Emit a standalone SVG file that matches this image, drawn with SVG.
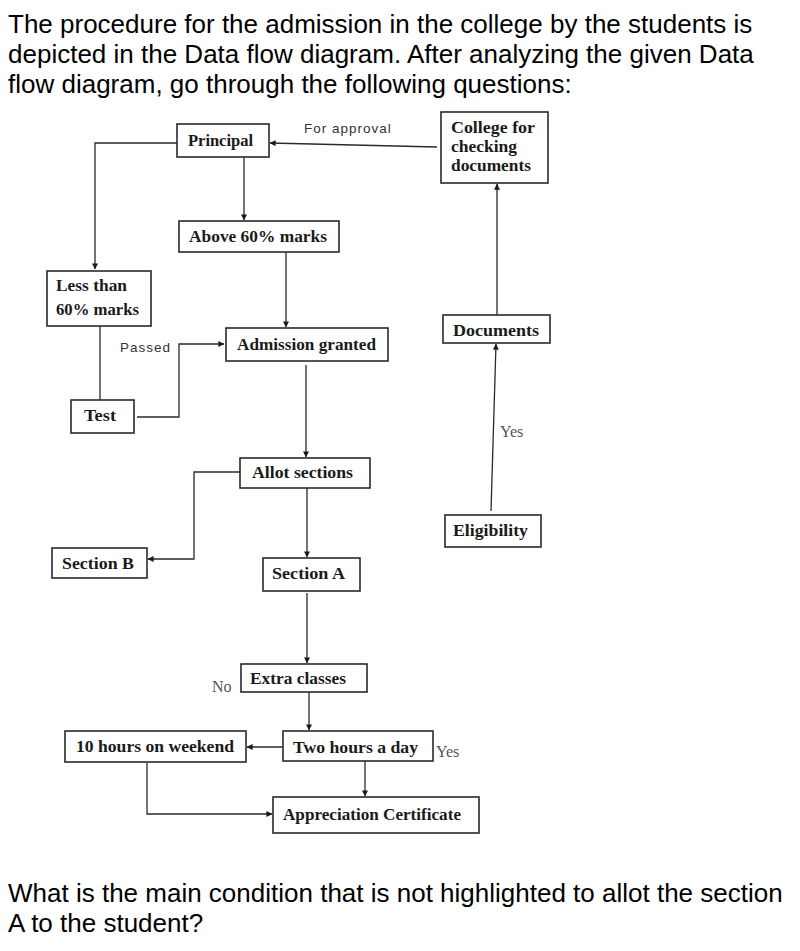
<svg xmlns="http://www.w3.org/2000/svg" width="800" height="951" viewBox="0 0 800 951">
<style>
.q{font-family:"Liberation Sans",Arial,sans-serif;font-size:26px;fill:#000}
.box{fill:#fff;stroke:#2a2a2a;stroke-width:1.6}
.lb{font-family:"Liberation Serif","Times New Roman",serif;font-weight:bold;font-size:16.5px;fill:#1a1a1a}
.sm{font-family:"Liberation Sans",Arial,sans-serif;font-size:13.5px;letter-spacing:1px;fill:#333}
.yn{font-family:"Liberation Serif","Times New Roman",serif;font-size:16px;fill:#555}
.c{fill:none;stroke:#2a2a2a;stroke-width:1.3}
</style>
<defs>
<marker id="ah" viewBox="0 0 8 8" refX="7.5" refY="4" markerWidth="6" markerHeight="6" markerUnits="userSpaceOnUse" orient="auto">
<path d="M0,0 L8,4 L0,8 z" fill="#1a1a1a"/>
</marker>
</defs>
<rect width="800" height="951" fill="#fff"/>
<g id="question-top">
<text class="q" x="8" y="33">The procedure for the admission in the college by the students is</text>
<text class="q" x="8" y="63">depicted in the Data flow diagram. After analyzing the given Data</text>
<text class="q" x="8" y="93">flow diagram, go through the following questions:</text>
</g>
<g id="connectors">
<polyline class="c" points="177,143 95,143 95,269" marker-end="url(#ah)"/>
<line class="c" x1="244" y1="157" x2="244" y2="220" marker-end="url(#ah)"/>
<line class="c" x1="437" y1="147" x2="270" y2="143" marker-end="url(#ah)"/>
<line class="c" x1="286" y1="252" x2="286" y2="327" marker-end="url(#ah)"/>
<line class="c" x1="100" y1="326" x2="100" y2="400"/>
<polyline class="c" points="137,417 179,417 179,344 224,344" marker-end="url(#ah)"/>
<line class="c" x1="306" y1="365" x2="306" y2="457" marker-end="url(#ah)"/>
<polyline class="c" points="240,472 194,472 194,559 148,559" marker-end="url(#ah)"/>
<line class="c" x1="307" y1="488" x2="307" y2="557" marker-end="url(#ah)"/>
<line class="c" x1="491" y1="511" x2="496" y2="344" marker-end="url(#ah)"/>
<line class="c" x1="497" y1="315" x2="497" y2="184" marker-end="url(#ah)"/>
<line class="c" x1="307" y1="593" x2="307" y2="663" marker-end="url(#ah)"/>
<line class="c" x1="309" y1="692" x2="309" y2="730" marker-end="url(#ah)"/>
<line class="c" x1="283" y1="747" x2="247" y2="747" marker-end="url(#ah)"/>
<polyline class="c" points="147,763 147,814 272,814" marker-end="url(#ah)"/>
<line class="c" x1="365" y1="761" x2="365" y2="796" marker-end="url(#ah)"/>
<text class="sm" x="304" y="133">For approval</text>
<text class="sm" x="120" y="352">Passed</text>
<text class="yn" x="500" y="437">Yes</text>
<text class="yn" x="212" y="692">No</text>
<text class="yn" x="436" y="757">Yes</text>
</g>
<g id="principal"><rect class="box" x="177" y="124" width="92" height="33"/><text class="lb" x="188" y="146" textLength="65" lengthAdjust="spacingAndGlyphs">Principal</text></g>
<g id="college"><rect class="box" x="441" y="112" width="107" height="71"/>
<text class="lb" x="451" y="133" textLength="84" lengthAdjust="spacingAndGlyphs">College for</text><text class="lb" x="451" y="152" textLength="66" lengthAdjust="spacingAndGlyphs">checking</text><text class="lb" x="451" y="171" textLength="80" lengthAdjust="spacingAndGlyphs">documents</text></g>
<g id="above60"><rect class="box" x="179" y="221" width="160" height="31"/><text class="lb" x="189" y="242" textLength="138" lengthAdjust="spacingAndGlyphs">Above 60% marks</text></g>
<g id="lessthan"><rect class="box" x="47" y="271" width="104" height="55"/>
<text class="lb" x="56" y="291" textLength="71" lengthAdjust="spacingAndGlyphs">Less than</text><text class="lb" x="56" y="315" textLength="83" lengthAdjust="spacingAndGlyphs">60% marks</text></g>
<g id="admission"><rect class="box" x="226" y="328" width="162" height="33"/><text class="lb" x="237" y="350" textLength="139" lengthAdjust="spacingAndGlyphs">Admission granted</text></g>
<g id="documents"><rect class="box" x="443" y="315" width="107" height="28"/><text class="lb" x="453" y="336" textLength="86" lengthAdjust="spacingAndGlyphs">Documents</text></g>
<g id="test"><rect class="box" x="71" y="400" width="63" height="33"/><text class="lb" x="84" y="421" textLength="32" lengthAdjust="spacingAndGlyphs">Test</text></g>
<g id="allot"><rect class="box" x="240" y="458" width="130" height="30"/><text class="lb" x="252" y="478" textLength="101" lengthAdjust="spacingAndGlyphs">Allot sections</text></g>
<g id="eligibility"><rect class="box" x="445" y="515" width="96" height="32"/><text class="lb" x="453" y="536" textLength="75" lengthAdjust="spacingAndGlyphs">Eligibility</text></g>
<g id="sectionB"><rect class="box" x="52" y="548" width="95" height="30"/><text class="lb" x="62" y="569" textLength="72" lengthAdjust="spacingAndGlyphs">Section B</text></g>
<g id="sectionA"><rect class="box" x="263" y="558" width="97" height="33"/><text class="lb" x="272" y="579" textLength="73" lengthAdjust="spacingAndGlyphs">Section A</text></g>
<g id="extra"><rect class="box" x="241" y="664" width="126" height="28"/><text class="lb" x="250" y="684" textLength="96" lengthAdjust="spacingAndGlyphs">Extra classes</text></g>
<g id="twohours"><rect class="box" x="283" y="731" width="150" height="30"/><text class="lb" x="293" y="753" textLength="125" lengthAdjust="spacingAndGlyphs">Two hours a day</text></g>
<g id="tenhours"><rect class="box" x="65" y="731" width="181" height="31"/><text class="lb" x="76" y="752" textLength="158" lengthAdjust="spacingAndGlyphs">10 hours on weekend</text></g>
<g id="appreciation"><rect class="box" x="273" y="797" width="206" height="36"/><text class="lb" x="283" y="820" textLength="178" lengthAdjust="spacingAndGlyphs">Appreciation Certificate</text></g>
<g id="question-bottom">
<text class="q" x="8" y="902">What is the main condition that is not highlighted to allot the section</text>
<text class="q" x="8" y="932">A to the student?</text>
</g>
</svg>
